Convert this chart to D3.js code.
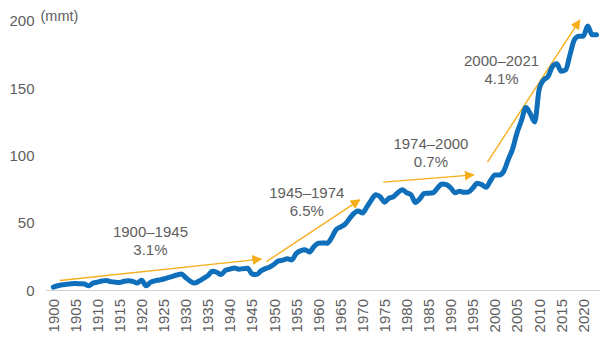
<!DOCTYPE html>
<html>
<head>
<meta charset="utf-8">
<script src="https://cdn.jsdelivr.net/npm/d3@7"></script>
<style>
  body { margin: 0; background: #fff; }
  text { font-family: "Liberation Sans", Arial, sans-serif; fill: #5e5e5e; }
</style>
</head>
<body>
<div class="chart"></div>
<script>
// annual output, million metric tonnes
let years = d3.range(1900, 2024);
let values = [
  2.5, 3.5, 4.2, 4.6, 5, 5.2, 5, 4.8, 3.5, 5.5,
  6.2, 7, 7.5, 6.6, 6.2, 6, 6.8, 7.2, 6.8, 5.5,
  7.6, 3.5, 6, 7.2, 7.8, 8.5, 9.5, 10.5, 11.5, 12.3,
  9.5, 7, 5.5, 7, 9, 11, 14.3, 13.5, 11.8, 15,
  15.8, 16.6, 15.8, 16.2, 16.5, 12.2, 11.8, 14.5, 16.2, 17.5,
  19.5, 22, 22.5, 23.5, 22.7, 27.5, 29.5, 30.3, 28.5, 32.5,
  35, 35.2, 35.1, 39, 45, 47, 49, 53, 57, 59,
  57.5, 62, 67, 71, 69.5, 65.5, 68.5, 69.5, 72.5, 74.6,
  72.5, 71, 65.2, 68, 72, 72.1, 72.5, 76, 79, 78.5,
  76, 72.5, 73.5, 72.8, 73, 76, 79.5, 78.5, 76.5, 81.5,
  85.7, 85.7, 88.5, 97, 105, 117, 126, 135.6, 131, 125,
  149, 156, 158.5, 166, 168, 162.5, 163.5, 175, 186, 188.5,
  188.5, 196, 189.5, 189.5
];

let yTicks = [0, 50, 100, 150, 200];
let xTicks = d3.range(1900, 2021, 5);

// growth-rate annotations: arrow [startYear, startValue, endYear, endValue]
let periods = ["1900\u20131945", "1945\u20131974", "1974\u20132000", "2000\u20132021"];
let rates = ["3.1%", "6.5%", "0.7%", "4.1%"];
let arrows = [
  [1901.5, 7.4, 1947.1, 23.3],
  [1948.2, 21.3, 1969.4, 67.2],
  [1974.7, 80.3, 1995.2, 85.7],
  [1998.3, 95.1, 2019.2, 200.5]
];
let labelPos = [[1922, 39.5], [1957.4, 68.5], [1985.5, 105], [2001.5, 166.5]];

let width = 605, height = 342;

let xScale = d3.scaleLinear().domain([1900, 2020]).range([53.3, 583.3]);
let yScale = d3.scaleLinear().domain([0, 200]).range([290.5, 20.7]);

let svg = d3.select(".chart").append("svg")
            .attr("width", width).attr("height", height);

svg.append("defs").append("marker")
   .attr("id", "head")
   .attr("viewBox", "0 0 10 10")
   .attr("refX", 9).attr("refY", 5)
   .attr("markerUnits", "userSpaceOnUse")
   .attr("markerWidth", 10).attr("markerHeight", 10)
   .attr("orient", "auto")
   .append("path").attr("d", "M0,0L10,5L0,10Z").attr("fill", "#f6ae1c");

// baseline
svg.append("line")
   .attr("x1", 46).attr("x2", 600)
   .attr("y1", yScale(0)).attr("y2", yScale(0))
   .attr("stroke", "#d0d0d0").attr("stroke-width", 1.2);

// y labels
svg.append("g").selectAll("text").data(yTicks).join("text")
   .attr("x", 34.5).attr("y", d => yScale(d))
   .attr("dy", "0.36em")
   .attr("text-anchor", "end")
   .style("font-size", "15px")
   .text(d => d);

svg.append("text")
   .attr("x", 40.5).attr("y", 21)
   .style("font-size", "14.5px")
   .text("(mmt)");

// x labels
svg.append("g").selectAll("text").data(xTicks).join("text")
   .attr("transform", d => "translate(" + xScale(d) + ",299)rotate(-90)")
   .attr("dy", "0.36em")
   .attr("text-anchor", "end")
   .style("font-size", "15px")
   .text(d => d);

// arrows
svg.append("g").selectAll("line").data(arrows).join("line")
   .attr("x1", d => xScale(d[0])).attr("y1", d => yScale(d[1]))
   .attr("x2", d => xScale(d[2])).attr("y2", d => yScale(d[3]))
   .attr("stroke", "#f6ae1c").attr("stroke-width", 1.4)
   .attr("marker-end", "url(#head)");

// annotation labels
let notes = svg.append("g").selectAll("text").data(periods).join("text")
   .attr("x", (d, i) => xScale(labelPos[i][0]))
   .attr("y", (d, i) => yScale(labelPos[i][1]))
   .attr("text-anchor", "middle")
   .style("font-size", "15px");
notes.append("tspan").text(d => d);
notes.append("tspan")
   .attr("x", (d, i) => xScale(labelPos[i][0]))
   .attr("dy", "1.2em")
   .text((d, i) => rates[i]);

// main series
let line = d3.line()
   .x((d, i) => xScale(years[i]))
   .y(d => yScale(d))
   .curve(d3.curveMonotoneX);

svg.append("path").datum(values)
   .attr("d", line)
   .attr("fill", "none")
   .attr("stroke", "#0f6fba")
   .attr("stroke-width", 5)
   .attr("stroke-linejoin", "round")
   .attr("stroke-linecap", "round");
</script>
</body>
</html>
